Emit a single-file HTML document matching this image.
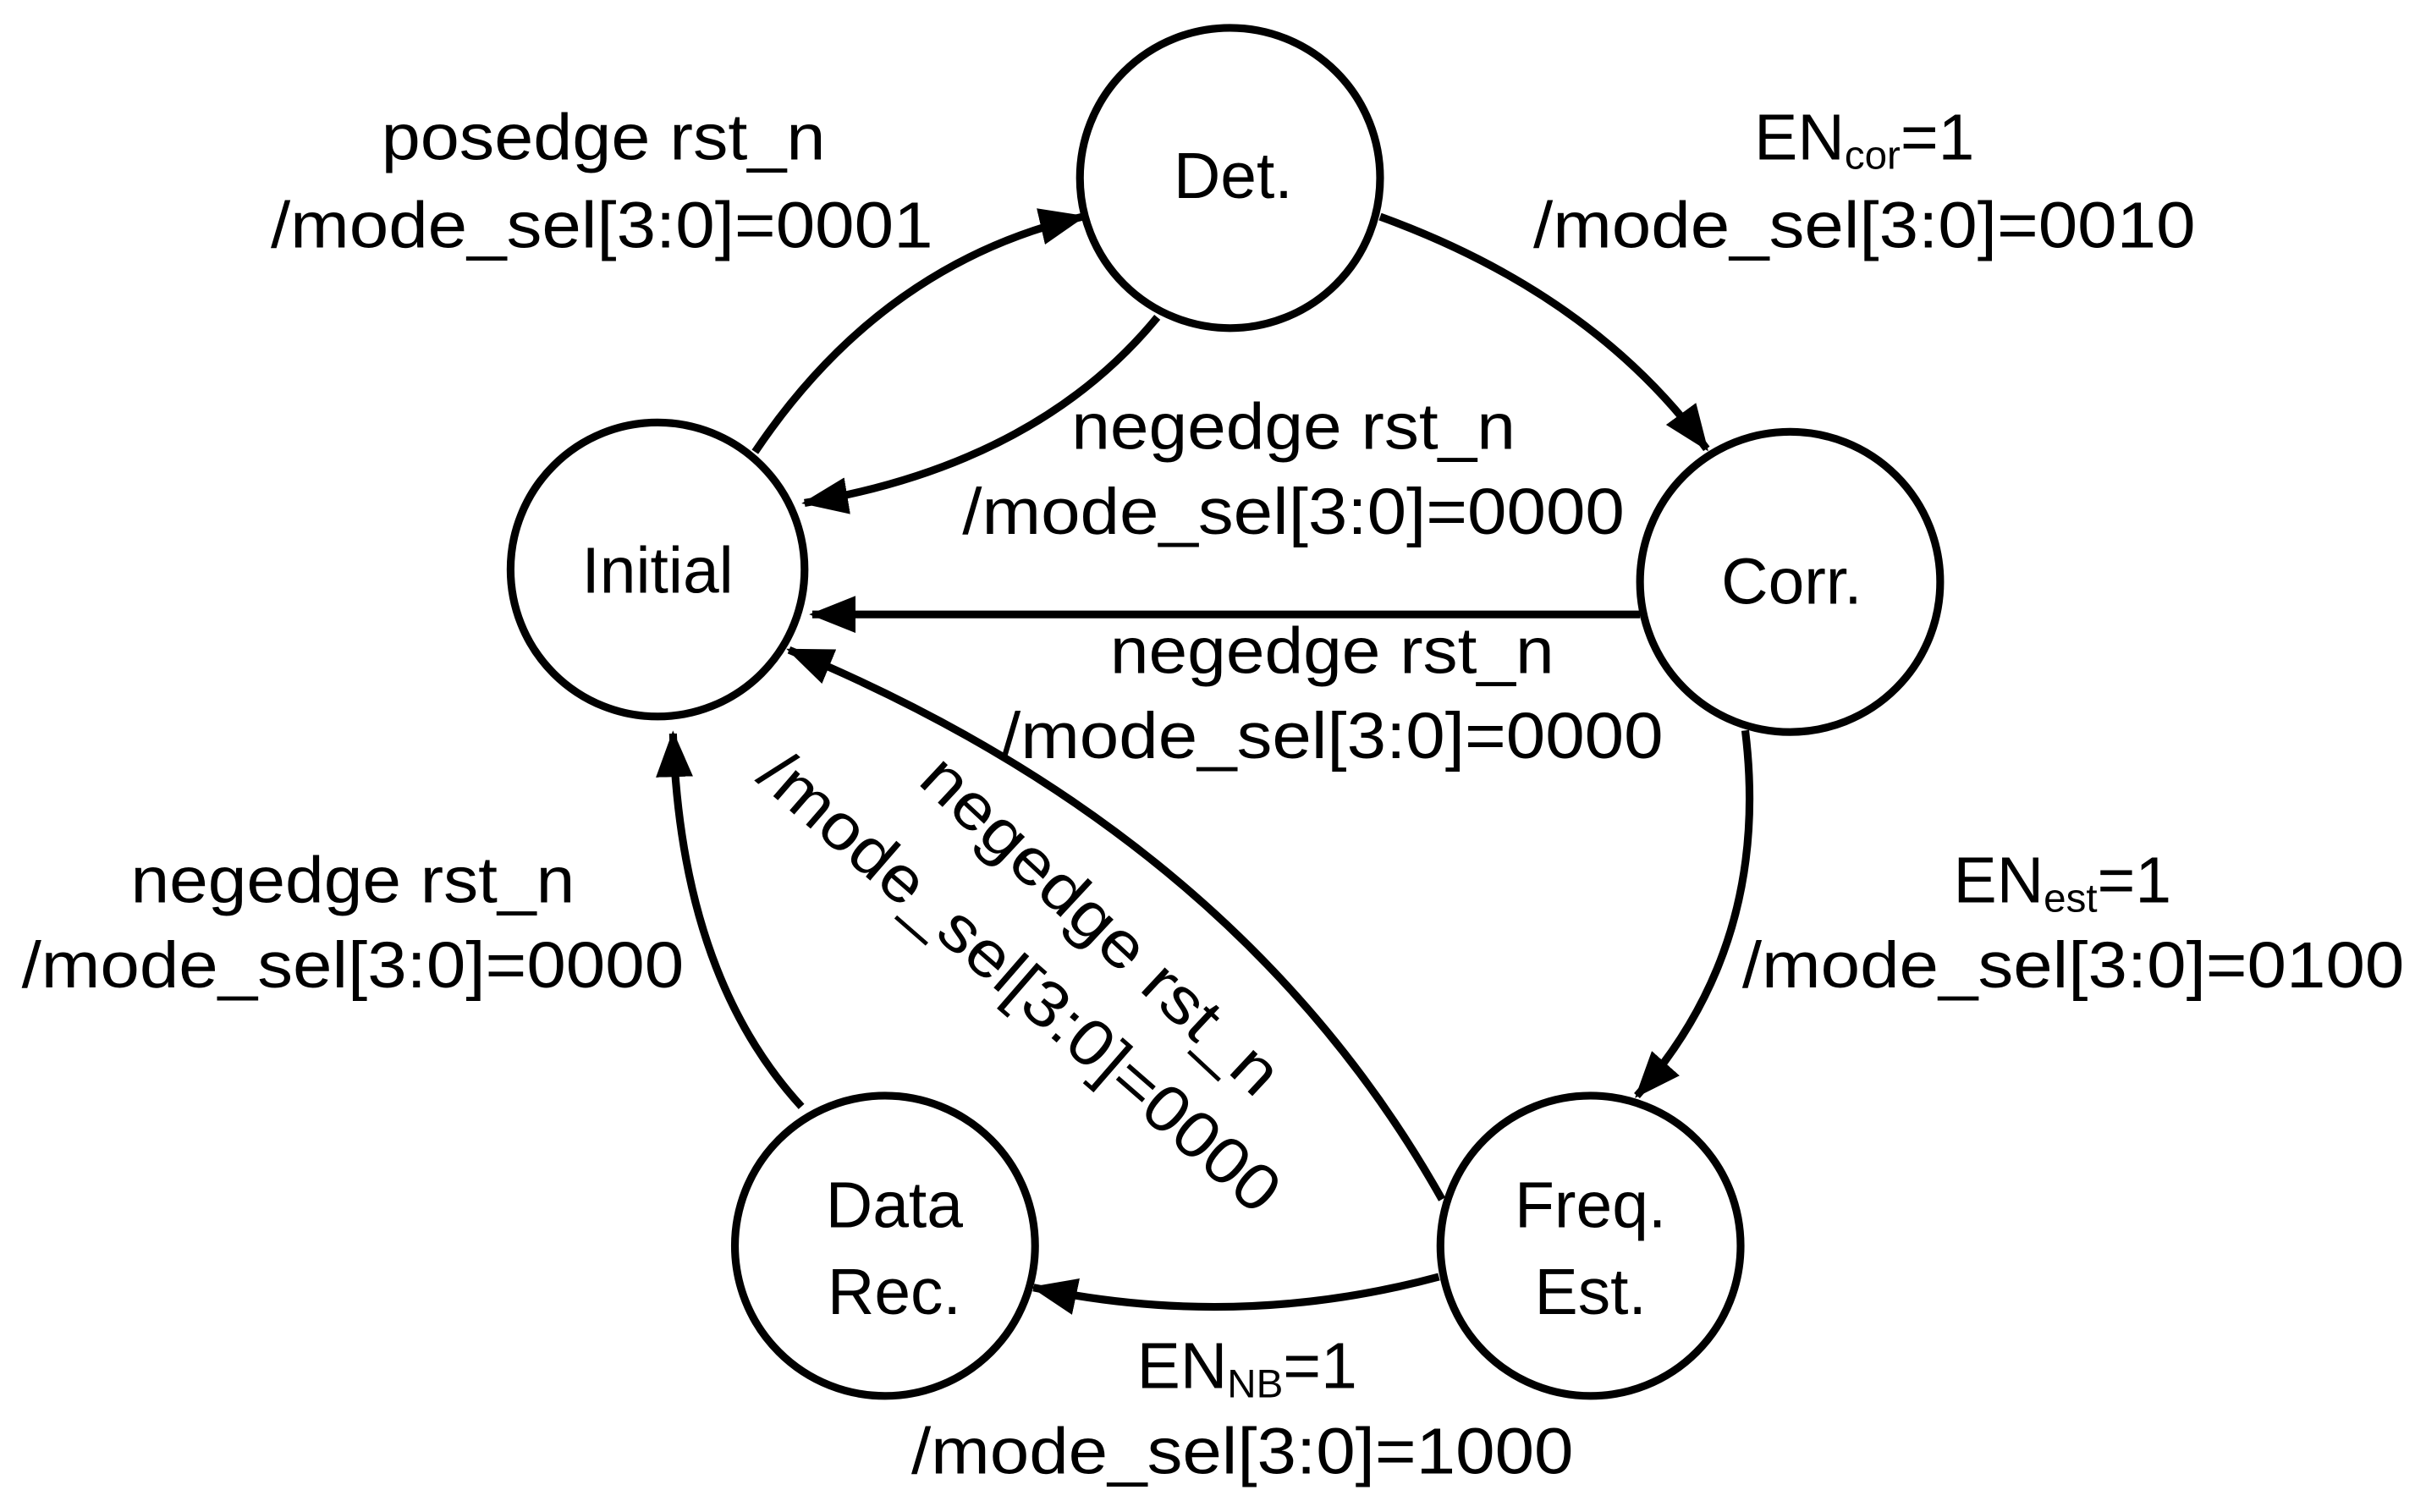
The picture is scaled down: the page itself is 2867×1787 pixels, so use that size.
<!DOCTYPE html>
<html><head><meta charset="utf-8"><style>html,body{margin:0;padding:0;background:#fff}svg{display:block}</style></head>
<body>
<svg width="2867" height="1787" viewBox="0 0 1568 977" preserveAspectRatio="none" xmlns="http://www.w3.org/2000/svg">
<defs>
<marker id="a" markerUnits="userSpaceOnUse" markerWidth="30" markerHeight="24" refX="28" refY="12" orient="auto">
<path d="M0,0 L30,12 L0,24 Z" fill="#000"/>
</marker>
</defs>
<g fill="none" stroke="#000" stroke-width="5">
<circle cx="425" cy="368" r="95"/>
<circle cx="795" cy="115" r="97"/>
<circle cx="1157" cy="376" r="97"/>
<circle cx="1028" cy="805" r="97"/>
<circle cx="572" cy="805" r="97"/>
<path d="M488,292 Q570,170 700,140" marker-end="url(#a)"/>
<path d="M748,205 Q670,300 520,325" marker-end="url(#a)"/>
<path d="M892,140 Q1030,190 1103,290" marker-end="url(#a)"/>
<path d="M1060,397 L525,397" marker-end="url(#a)"/>
<path d="M1128,472 Q1145,610 1058,708" marker-end="url(#a)"/>
<path d="M932,775 Q800,540 510,420" marker-end="url(#a)"/>
<path d="M930,825 Q800,860 668,832" marker-end="url(#a)"/>
<path d="M518,715 Q440,630 435,474" marker-end="url(#a)"/>
</g>
<g font-family="Liberation Sans, Arial, sans-serif" font-size="42" text-anchor="middle" fill="#000">
<text x="425" y="383">Initial</text>
<text x="797" y="128">Det.</text>
<text x="1158" y="390">Corr.</text>
<text x="1028" y="793">Freq.</text>
<text x="1028" y="849">Est.</text>
<text x="578" y="793">Data</text>
<text x="578" y="849">Rec.</text>
<text x="390" y="103" textLength="287" lengthAdjust="spacingAndGlyphs">posedge rst_n</text>
<text x="389" y="160" textLength="428" lengthAdjust="spacingAndGlyphs">/mode_sel[3:0]=0001</text>
<text x="1205" y="103">EN<tspan font-size="26" dy="6">cor</tspan><tspan dy="-6">=1</tspan></text>
<text x="1205" y="160" textLength="428" lengthAdjust="spacingAndGlyphs">/mode_sel[3:0]=0010</text>
<text x="836" y="290" textLength="287" lengthAdjust="spacingAndGlyphs">negedge rst_n</text>
<text x="836" y="345" textLength="428" lengthAdjust="spacingAndGlyphs">/mode_sel[3:0]=0000</text>
<text x="861" y="435" textLength="287" lengthAdjust="spacingAndGlyphs">negedge rst_n</text>
<text x="861" y="490" textLength="428" lengthAdjust="spacingAndGlyphs">/mode_sel[3:0]=0000</text>
<text x="1333" y="583">EN<tspan font-size="26" dy="6">est</tspan><tspan dy="-6">=1</tspan></text>
<text x="1340" y="638" textLength="428" lengthAdjust="spacingAndGlyphs">/mode_sel[3:0]=0100</text>
<text x="228" y="583" textLength="287" lengthAdjust="spacingAndGlyphs">negedge rst_n</text>
<text x="228" y="638" textLength="428" lengthAdjust="spacingAndGlyphs">/mode_sel[3:0]=0000</text>
<text x="806" y="897">EN<tspan font-size="26" dy="6">NB</tspan><tspan dy="-6">=1</tspan></text>
<text x="803" y="952" textLength="428" lengthAdjust="spacingAndGlyphs">/mode_sel[3:0]=1000</text>
<text transform="translate(702,608) rotate(43)" textLength="300" lengthAdjust="spacingAndGlyphs">negedge rst_n</text>
<text transform="translate(650,645) rotate(41)" textLength="430" lengthAdjust="spacingAndGlyphs">/mode_sel[3:0]=0000</text>
</g>
</svg>
</body></html>
